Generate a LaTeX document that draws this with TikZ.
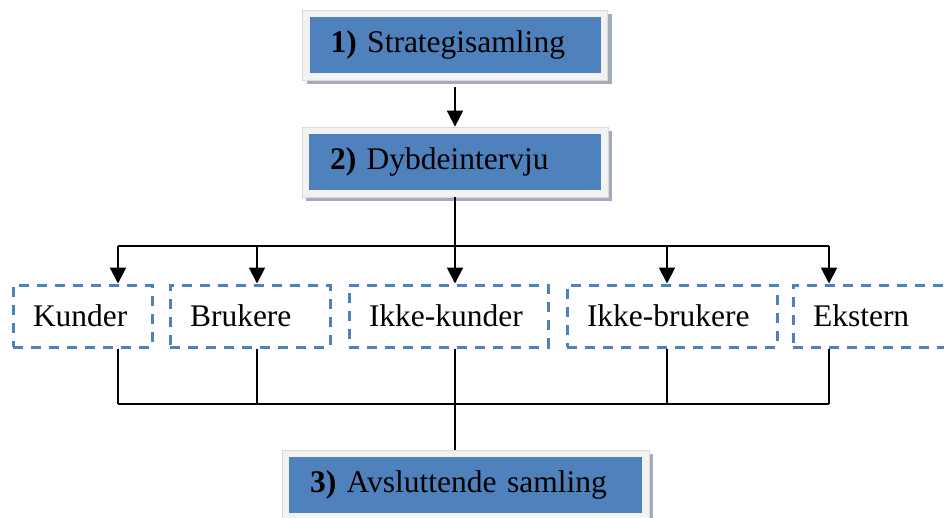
\documentclass[tikz,border=0pt]{standalone}
\usepackage{fontspec}
\setmainfont{Liberation Serif}
\usetikzlibrary{arrows.meta, calc, positioning, shadows}
\definecolor{boxblue}{HTML}{4F81BD}
\definecolor{framegray}{HTML}{F2F2F2}
\definecolor{shadegray}{HTML}{A3ABBB}

\begin{document}
\begin{tikzpicture}[x=1pt, y=-1pt, font=\fontsize{31.5}{36}\selectfont,
  stage/.style={rectangle, fill=framegray, draw=white!85!black, line width=0.8pt,
    inner xsep=28pt, inner ysep=0pt, minimum height=70pt, align=left,
    drop shadow={shadow xshift=4pt, shadow yshift=-4pt, fill=shadegray, opacity=1},
    path picture={\fill[boxblue] ($(path picture bounding box.south west)+(7pt,7pt)$)
      rectangle ($(path picture bounding box.north east)+(-7pt,-7pt)$);}},
  group/.style={rectangle, draw=boxblue, line width=3pt, dash pattern=on 10pt off 8pt,
    inner xsep=20pt, inner ysep=0pt, minimum height=62pt, align=left},
  link/.style={line width=2pt},
  arrow/.style={link, -{Triangle[length=16pt, width=16pt]}}]
\path[use as bounding box, clip] (0,0) rectangle (944,517);

\node[stage, text width=249pt] (s1) at (455,45) {\textbf{1)} Strategisamling};
\node[stage, text width=250pt] (s2) at (455,162) {\textbf{2)} Dybdeintervju};
\node[stage, text width=311pt] (s3) at (465.5,485) {\textbf{3)} Avsluttende samling};

\foreach \n/\cx/\w/\txt in {kunder/82.5/99/Kunder, brukere/250/120/Brukere,
    ikkekunder/448.5/159/Ikke-kunder, ikkebrukere/672/170/Ikke-brukere, ekstern/878/130/Ekstern}
  \node[group, text width=\w pt] (\n) at (\cx,316) {\txt};

\foreach \n/\x in {kunder/118, brukere/257, ikkekunder/455, ikkebrukere/667, ekstern/829}{
  \coordinate (b\n) at (\x,246);
  \coordinate (d\n) at (\x,404);
}

\draw[arrow, shorten <=7pt] (s1.south) -- (s2.north);
\draw[link] (s2.south) -- (bikkekunder);
\draw[link] (bkunder) -- (bekstern);
\foreach \n in {kunder, brukere, ikkekunder, ikkebrukere, ekstern}
  \draw[arrow] (b\n) -- (b\n |- \n.north);
\foreach \n in {kunder, brukere, ikkebrukere, ekstern}
  \draw[link] (d\n |- \n.south) -- (d\n);
\draw[link] (dkunder) -- (dekstern);
\draw[link] (dikkekunder |- ikkekunder.south) -- (dikkekunder |- s3.north);
\end{tikzpicture}
\end{document}
